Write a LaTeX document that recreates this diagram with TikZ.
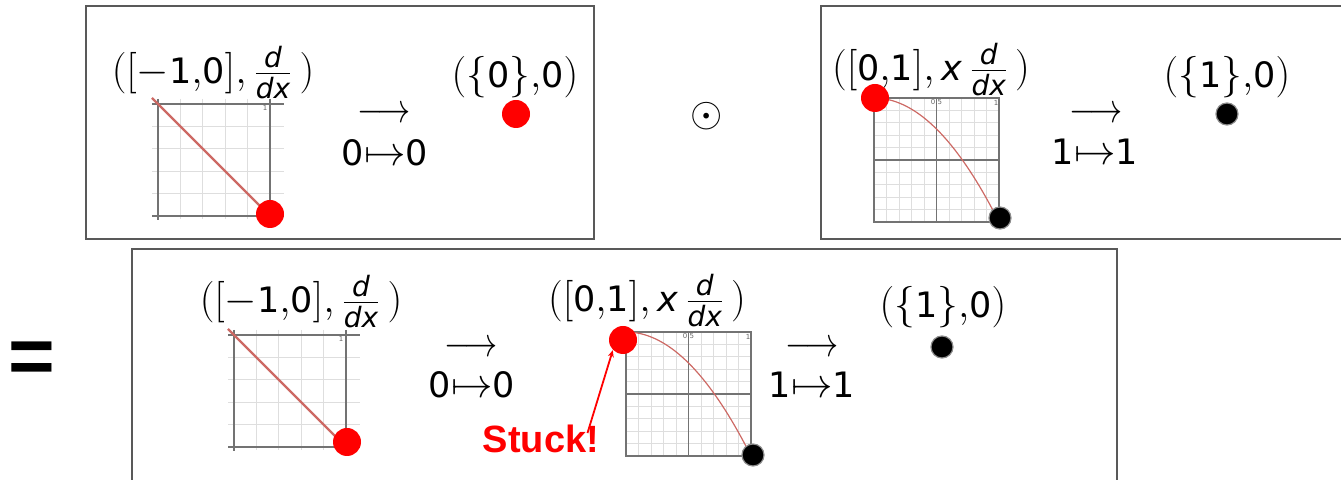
\documentclass[tikz,border=0pt]{standalone}
\usepackage{fontspec}
\setmainfont{DejaVu Sans}
\newfontfamily\stuckfont{Liberation Sans}
\usetikzlibrary{arrows.meta}

\definecolor{curvered}{RGB}{205,105,100}
\newcommand{\nm}[1]{\mbox{\fontsize{17.5}{20}\selectfont #1}}

\begin{document}
\begin{tikzpicture}[x=0.5pt, y=-0.5pt,
    framebox/.style={draw=black!65, line width=1pt},
    lbl/.style={anchor=base, inner sep=0pt, font=\fontsize{20}{24}\selectfont},
    reddot/.style={circle, fill=red, minimum size=14pt, inner sep=0pt},
    blackdot/.style={circle, fill=black, draw=black!45, line width=0.6pt, minimum size=11pt, inner sep=0pt},
    gridline/.style={draw=black!13, line width=0.5pt},
    axisline/.style={draw=black!55, line width=0.6pt},
    ticklbl/.style={font=\fontsize{3.5}{4}\selectfont, text=black!60, inner sep=0pt},
    stuckarrow/.style={-{Stealth[length=3.5pt, width=3pt]}, red, line width=0.9pt},
    linplot/.pic={
        \foreach \i in {1,...,4} {
            \draw[gridline] (\i*22.4,-5) -- (\i*22.4,115);
            \draw[gridline] (-6,\i*22.4) -- (126,\i*22.4);
        }
        \draw[axisline] (0,-5) -- (0,116);
        \draw[axisline] (-6,0) -- (126,0);
        \draw[axisline, line width=1pt] (112,-5) -- (112,115);
        \draw[axisline, line width=1pt] (-6,112) -- (126,112);
        \node[ticklbl] at (107,4) {1};
        \draw[curvered, line width=1.1pt] (-6,-6) -- (112,112);
    },
    curveplot/.pic={
        \foreach \i in {1,...,9} {
            \draw[gridline] (\i*12.5,0) -- (\i*12.5,124);
            \draw[gridline] (0,\i*12.4) -- (125,\i*12.4);
        }
        \draw[axisline] (62.5,0) -- (62.5,124);
        \draw[axisline] (0,62) -- (125,62);
        \draw[axisline] (0,0) rectangle (125,124);
        \node[ticklbl] at (62.5,4) {0.5};
        \node[ticklbl] at (122,5) {1};
        \draw[curvered, line width=0.6pt, domain=0:1, samples=40] plot ({125*\x},{124*\x*\x});
    }
]
\useasboundingbox (0,0) rectangle (1341,480);

% frames
\draw[framebox] (86,6) rectangle (594,239);
\draw[framebox] (821,6) rectangle (1346,239);
\draw[framebox] (132,249) rectangle (1117,486);

% graphs
\pic at (158,104) {linplot};
\pic at (874,98) {curveplot};
\pic at (234,335) {linplot};
\pic at (626,332) {curveplot};

% top left factor
\node[lbl] (srcA) at (213,84) {$([-\nm{1}{,}\nm{0}],\frac{\mathit{d}}{\mathit{dx}}\,)$};
\node[lbl] (arrA) at (384,123) {\scalebox{0.8}[1]{$\longrightarrow$}};
\node[lbl] (mapA) at (385,166) {$\nm{0}{\mapsto}\nm{0}$};
\node[lbl] (tgtA) at (515,88) {$(\{\nm{0}\}{,}\nm{0})$};
\node[reddot] (dotA1) at (270,214) {};
\node[reddot] (dotA2) at (516,114) {};

\node[font=\fontsize{20}{24}\selectfont] (odot) at (707,116) {$\odot$};

% top right factor
\node[lbl] (srcB) at (931,81) {$([\nm{0}{,}\nm{1}],\nm{\itshape x}\,\frac{\mathit{d}}{\mathit{dx}}\,)$};
\node[lbl] (arrB) at (1096,123) {\scalebox{0.8}[1]{$\longrightarrow$}};
\node[lbl] (mapB) at (1095,165) {$\nm{1}{\mapsto}\nm{1}$};
\node[lbl] (tgtB) at (1227,88) {$(\{\nm{1}\}{,}\nm{0})$};
\node[reddot] (dotB1) at (875,98) {};
\node[blackdot] (dotB2) at (1000,218) {};
\node[blackdot] (dotB3) at (1227,114) {};

\node[font=\stuckfont\bfseries\fontsize{40}{40}\selectfont] (eq) at (32,363) {=};

% composite
\node[lbl] (srcC) at (301,313) {$([-\nm{1}{,}\nm{0}],\frac{\mathit{d}}{\mathit{dx}}\,)$};
\node[lbl] (arrC1) at (471,357) {\scalebox{0.8}[1]{$\longrightarrow$}};
\node[lbl] (mapC1) at (472,398) {$\nm{0}{\mapsto}\nm{0}$};
\node[lbl] (midC) at (647,312) {$([\nm{0}{,}\nm{1}],\nm{\itshape x}\,\frac{\mathit{d}}{\mathit{dx}}\,)$};
\node[lbl] (arrC2) at (812,357) {\scalebox{0.8}[1]{$\longrightarrow$}};
\node[lbl] (mapC2) at (812,398) {$\nm{1}{\mapsto}\nm{1}$};
\node[lbl] (tgtC) at (943,318) {$(\{\nm{1}\}{,}\nm{0})$};
\node[reddot] (dotC1) at (347,442) {};
\node[reddot] (dotC2) at (623,340) {};
\node[blackdot] (dotC3) at (753,455) {};
\node[blackdot] (dotC4) at (942,347) {};

\node[anchor=base, inner sep=0pt, text=red, font=\stuckfont\bfseries\fontsize{19}{22}\selectfont] (stuck) at (541,453) {Stuck!};
\draw[stuckarrow] ([xshift=-6pt, yshift=-4pt]stuck.north east) -- (dotC2.south west);
\end{tikzpicture}
\end{document}
